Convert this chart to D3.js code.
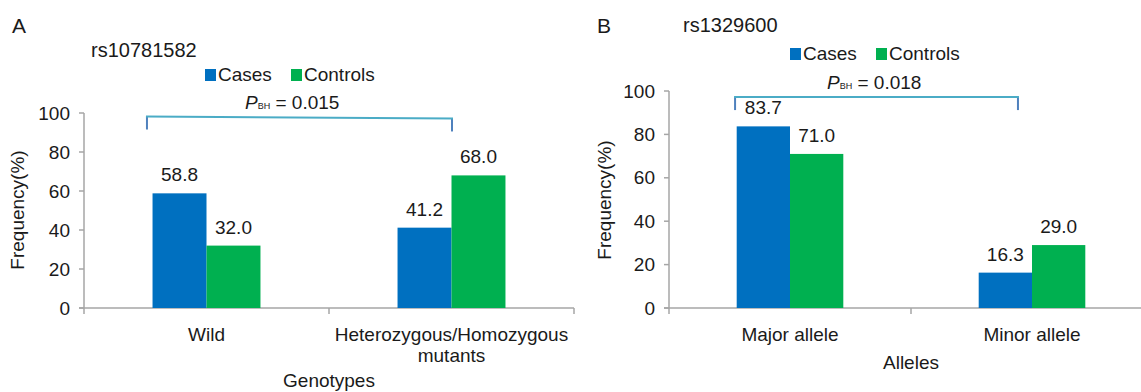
<!DOCTYPE html>
<html lang="en">
<head>
<meta charset="UTF-8" />
<title>Genotype and allele frequencies</title>
<script src="https://d3js.org/d3.v7.min.js"></script>
<style>
  body { margin: 0; background: #fff; }
  svg { display: block; }
  text { font-family: "Liberation Sans", Arial, sans-serif; fill: #1a1a1a; }
</style>
</head>
<body>
<svg id="chart" width="1141" height="392"></svg>
<script>
// data
const seriesNames = ["Cases", "Controls"];
const seriesColors = ["#0070c0", "#00b050"];
const yTicks = [0, 20, 40, 60, 80, 100];

const genotypes = ["Wild", "Heterozygous/Homozygous mutants"];
const genotypeCases = [58.8, 41.2];
const genotypeControls = [32.0, 68.0];

const alleles = ["Major allele", "Minor allele"];
const alleleCases = [83.7, 16.3];
const alleleControls = [71.0, 29.0];

const svg = d3.select("#chart");
const FS = 19;

function drawPanel(p) {
  const g = svg.append("g");

  const y = d3.scaleLinear().domain([0, 100]).range([308, p.yTop]);
  const x = d3.scaleBand().domain(p.categories).range([p.left, p.left + 2 * p.band]);
  const xs = d3.scaleBand().domain(seriesNames).range([0, x.bandwidth()]).paddingOuter(1.27);

  // panel letter + snp title
  g.append("text").attr("x", p.letterX).attr("y", 33).attr("font-size", 21).text(p.letter);
  g.append("text").attr("x", p.titleX).attr("y", p.titleY).attr("font-size", 20).text(p.title);

  // legend
  const lg = g.append("g").attr("transform", `translate(${p.legendX},${p.legendY})`);
  const offs = [0, 86];
  seriesNames.forEach((s, i) => {
    lg.append("rect").attr("x", offs[i]).attr("y", -12).attr("width", 11).attr("height", 12)
      .attr("fill", seriesColors[i]);
    lg.append("text").attr("x", offs[i] + 13).attr("y", 0).attr("font-size", FS).text(s);
  });

  // y axis
  g.append("line").attr("x1", p.left).attr("x2", p.left)
    .attr("y1", y(0)).attr("y2", y(100)).attr("stroke", "#a6a6a6").attr("stroke-width", 1.5);
  yTicks.forEach(t => {
    g.append("line").attr("x1", p.left - 5).attr("x2", p.left)
      .attr("y1", y(t)).attr("y2", y(t)).attr("stroke", "#a6a6a6").attr("stroke-width", 1.5);
    g.append("text").attr("x", p.left - 14).attr("y", y(t)).attr("dy", "0.35em")
      .attr("text-anchor", "end").attr("font-size", FS).text(t);
  });
  g.append("text")
    .attr("transform", `translate(${p.yTitleX},${p.yTitleMid}) rotate(-90)`)
    .attr("text-anchor", "middle").attr("font-size", FS).text("Frequency(%)");

  // x axis
  const xEnd = p.left + 2 * p.band;
  g.append("line").attr("x1", p.left - 5).attr("x2", xEnd)
    .attr("y1", y(0)).attr("y2", y(0)).attr("stroke", "#a6a6a6").attr("stroke-width", 1.5);
  [0, 1, 2].forEach(k => {
    const xx = p.left + k * p.band;
    g.append("line").attr("x1", xx).attr("x2", xx).attr("y1", y(0)).attr("y2", y(0) + 6)
      .attr("stroke", "#a6a6a6").attr("stroke-width", 1.5);
  });

  // bars
  const rows = p.categories.map((c, i) => ({ cat: c, vals: [p.cases[i], p.controls[i]] }));
  rows.forEach(r => {
    r.vals.forEach((v, j) => {
      const bx = x(r.cat) + xs(seriesNames[j]);
      g.append("rect").attr("x", bx).attr("y", y(v)).attr("width", xs.bandwidth())
        .attr("height", y(0) - y(v)).attr("fill", seriesColors[j]);
      g.append("text").attr("x", bx + xs.bandwidth() / 2).attr("y", y(v) - 12)
        .attr("text-anchor", "middle").attr("font-size", FS).text(v.toFixed(1));
    });
  });

  // category labels
  p.catLines.forEach((lines, i) => {
    const cx = x(p.categories[i]) + x.bandwidth() / 2;
    const t = g.append("text").attr("x", cx)
      .attr("y", 341).attr("text-anchor", "middle").attr("font-size", FS);
    lines.forEach((ln, k) => t.append("tspan").attr("x", cx)
      .attr("dy", k === 0 ? 0 : 21).text(ln));
  });
  g.append("text").attr("x", p.left + p.band).attr("y", p.xTitleY)
    .attr("text-anchor", "middle").attr("font-size", FS).text(p.xTitle);

  // significance bracket
  const bx0 = p.left + p.br.from * p.band, bx1 = p.left + p.br.to * p.band;
  g.append("line").attr("x1", bx0).attr("x2", bx0).attr("y1", y(p.br.yl)).attr("y2", y(p.br.yl) + 13)
    .attr("stroke", "#4f81bd").attr("stroke-width", 2);
  g.append("line").attr("x1", bx1).attr("x2", bx1).attr("y1", y(p.br.yr)).attr("y2", y(p.br.yr) + 13)
    .attr("stroke", "#4f81bd").attr("stroke-width", 2);
  g.append("line").attr("x1", bx0 - 1).attr("x2", bx1 + 1).attr("y1", y(p.br.yl)).attr("y2", y(p.br.yr))
    .attr("stroke", "#4bacc6").attr("stroke-width", 2);

  const pt = g.append("text").attr("x", p.pX).attr("y", p.pY).attr("font-size", FS);
  pt.append("tspan").attr("font-style", "italic").text("P");
  pt.append("tspan").attr("font-size", 9).attr("dy", 0).text("BH");
  pt.append("tspan").text(" = " + p.pValue);
}

drawPanel({
  letter: "A", letterX: 12, title: "rs10781582", titleX: 91, titleY: 57,
  legendX: 205, legendY: 81,
  categories: genotypes, catLines: [["Wild"], ["Heterozygous/Homozygous", "mutants"]],
  cases: genotypeCases, controls: genotypeControls,
  left: 84, band: 245, yTop: 113, yTitleX: 24, yTitleMid: 210,
  xTitle: "Genotypes", xTitleY: 387,
  br: { from: 0.257, to: 1.502, yl: 98.2, yr: 97.2 },
  pX: 245, pY: 109, pValue: "0.015"
});

drawPanel({
  letter: "B", letterX: 597, title: "rs1329600", titleX: 683, titleY: 32,
  legendX: 790, legendY: 60,
  categories: alleles, catLines: [["Major allele"], ["Minor allele"]],
  cases: alleleCases, controls: alleleControls,
  left: 669, band: 242, yTop: 91, yTitleX: 611, yTitleMid: 200,
  xTitle: "Alleles", xTitleY: 369,
  br: { from: 0.273, to: 1.442, yl: 97.2, yr: 97.2 },
  pX: 827, pY: 89, pValue: "0.018"
});
</script>
</body>
</html>
